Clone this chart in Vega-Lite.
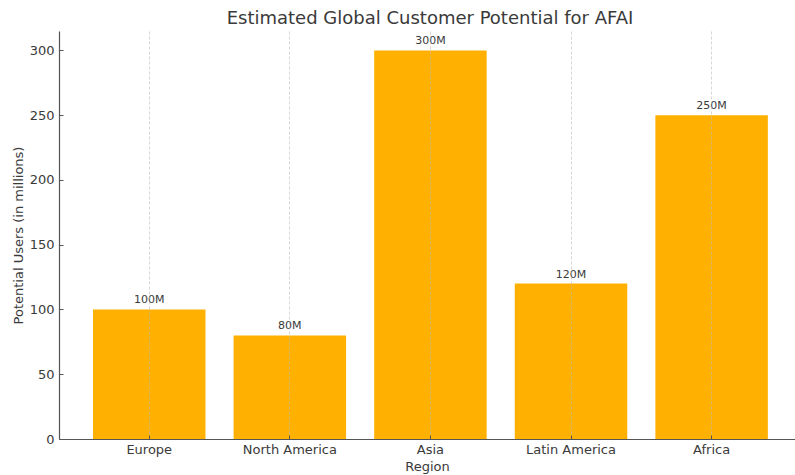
{
  "$schema": "https://vega.github.io/schema/vega-lite/v6.json",
  "autosize": "none",
  "width": 736,
  "height": 408,
  "padding": {"left": 59, "top": 31, "right": 0, "bottom": 36},
  "background": "white",
  "title": {
    "text": "Estimated Global Customer Potential for AFAI",
    "font": "DejaVu Sans",
    "fontSize": 18,
    "fontWeight": "normal",
    "color": "#3a3a3a",
    "anchor": "middle",
    "dx": 3,
    "offset": 3
  },
  "config": {
    "view": {"stroke": null},
    "font": "DejaVu Sans"
  },
  "data": {
    "values": [
      {"region": "Europe", "users": 100, "label": "100M"},
      {"region": "North America", "users": 80, "label": "80M"},
      {"region": "Asia", "users": 300, "label": "300M"},
      {"region": "Latin America", "users": 120, "label": "120M"},
      {"region": "Africa", "users": 250, "label": "250M"}
    ]
  },
  "encoding": {
    "x": {
      "field": "region",
      "type": "nominal",
      "sort": null,
      "scale": {"paddingInner": 0.2, "paddingOuter": 0.2175, "align": 0.556},
      "axis": {
        "title": "Region",
        "titleFont": "DejaVu Sans",
        "titleFontSize": 13,
        "titleFontWeight": "normal",
        "titleColor": "#3a3a3a",
        "titlePadding": 4,
        "labelAngle": 0,
        "labelFont": "DejaVu Sans",
        "labelFontSize": 13,
        "labelColor": "#3a3a3a",
        "labelPadding": 8,
        "tickSize": -4,
        "tickColor": "#555555",
        "domainColor": "#555555",
        "domainWidth": 1.2,
        "grid": true,
        "gridColor": "#bbbbbb",
        "gridDash": [3, 2],
        "gridWidth": 0.6,
        "zindex": 1
      }
    },
    "y": {
      "field": "users",
      "type": "quantitative",
      "scale": {"domain": [0, 315], "nice": false},
      "axis": {
        "title": "Potential Users (in millions)",
        "titleFont": "DejaVu Sans",
        "titleFontSize": 13,
        "titleFontWeight": "normal",
        "titleColor": "#3a3a3a",
        "titlePadding": 4,
        "values": [0, 50, 100, 150, 200, 250, 300],
        "labelFont": "DejaVu Sans",
        "labelFontSize": 13,
        "labelColor": "#3a3a3a",
        "labelPadding": 9,
        "tickSize": -4,
        "tickColor": "#555555",
        "domainColor": "#555555",
        "domainWidth": 1.2,
        "grid": false,
        "zindex": 1
      }
    }
  },
  "layer": [
    {"mark": {"type": "bar", "color": "#ffb000"}},
    {
      "mark": {"type": "text", "baseline": "bottom", "dy": -4, "fontSize": 11, "color": "#3a3a3a", "font": "DejaVu Sans"},
      "encoding": {"text": {"field": "label"}}
    }
  ]
}
